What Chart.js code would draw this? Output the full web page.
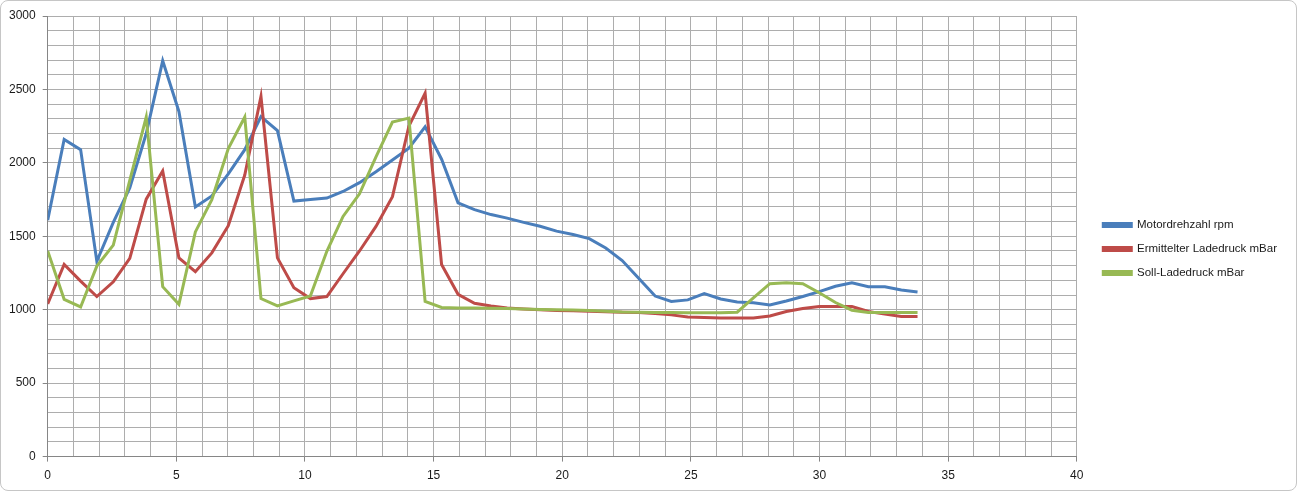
<!DOCTYPE html>
<html>
<head>
<meta charset="utf-8">
<script src="https://cdn.jsdelivr.net/npm/chart.js@4.4.1/dist/chart.umd.min.js"></script>
<style>
	html, body { margin: 0; padding: 0; background: #ffffff; }
	#frame {
		position: absolute; left: 0; top: 0;
		width: 1295px; height: 489px;
		border: 1px solid #c6c6c6; border-radius: 8px;
		overflow: hidden;
	}
	#chart { display: block; }
</style>
</head>
<body>
<div id="frame"><canvas id="chart" width="1295" height="489"></canvas></div>
<script>
'use strict';

// time axis (s)
const times = [0, 0.64, 1.28, 1.91, 2.55, 3.19, 3.83, 4.47, 5.10, 5.74,
	6.38, 7.02, 7.66, 8.29, 8.93, 9.57, 10.21, 10.85, 11.48, 12.12,
	12.76, 13.40, 14.04, 14.67, 15.31, 15.95, 16.59, 17.23, 17.86, 18.50,
	19.14, 19.78, 20.42, 21.05, 21.69, 22.33, 22.97, 23.61, 24.24, 24.88,
	25.52, 26.16, 26.80, 27.43, 28.07, 28.71, 29.35, 29.99, 30.62, 31.26,
	31.90, 32.54, 33.18, 33.81];

const rpm = [1610, 2160, 2090, 1330, 1595, 1830, 2200, 2695, 2350, 1700,
	1775, 1925, 2090, 2315, 2220, 1740, 1750, 1760, 1805, 1865,
	1940, 2020, 2100, 2245, 2025, 1728, 1682, 1648, 1624, 1595,
	1568, 1535, 1512, 1484, 1420, 1335, 1215, 1093, 1056, 1067,
	1110, 1073, 1053, 1047, 1033, 1060, 1090, 1123, 1160, 1184,
	1157, 1157, 1135, 1121];

const ladedruck = [1040, 1308, 1195, 1090, 1190, 1350, 1753, 1944, 1353, 1259,
	1387, 1572, 1917, 2452, 1353, 1150, 1076, 1090, 1245, 1400,
	1567, 1770, 2250, 2474, 1308, 1105, 1044, 1026, 1012, 1005,
	1000, 995, 993, 990, 986, 983, 981, 974, 965, 951,
	947, 943, 943, 943, 958, 988, 1008, 1022, 1022, 1022,
	988, 970, 954, 954];

const sollLadedruck = [1400, 1071, 1019, 1297, 1440, 1880, 2312, 1157, 1037, 1530,
	1750, 2098, 2312, 1076, 1026, 1060, 1094, 1398, 1635, 1789,
	2041, 2278, 2305, 1056, 1015, 1012, 1011, 1010, 1008, 1005,
	1002, 1000, 998, 995, 990, 985, 983, 982, 981, 980,
	980, 980, 983, 1080, 1177, 1184, 1177, 1116, 1049, 997,
	981, 981, 981, 981];

const seriesNames = ['Motordrehzahl rpm', 'Ermittelter Ladedruck mBar', 'Soll-Ladedruck mBar'];
const seriesColors = ['#4a7ebb', '#be4b48', '#98b954'];

// extra room between plot area and legend
const LEGEND_GAP = 14;

/**
 * Pair the time values with one series so the line can go on a linear x scale
 * @param {array} values list of y values
 */
function toPoints(values) {
	let points = [];
	for (let i = 0; i < values.length; i++) {
		points.push({ x: times[i], y: values[i] });
	}
	return points;
}

function makeDataset(index, values) {
	return {
		label: seriesNames[index],
		data: toPoints(values),
		borderColor: seriesColors[index],
		backgroundColor: seriesColors[index],
		borderWidth: 3,
		pointRadius: 0,
		tension: 0,
		// Excel puts the last series on top
		order: 3 - index
	};
}

/**
 * Grid settings: minor lines every step, tick marks only on the labelled (major) values
 * @param {number} major spacing of the labelled ticks
 */
function gridFor(major) {
	return {
		color: '#adadad',
		lineWidth: 1,
		tickLength: 5,
		tickColor: function (context) {
			return context.tick && context.tick.value % major === 0 ? '#868686' : 'rgba(0,0,0,0)';
		}
	};
}

/**
 * Widen the legend box and push its items to the right, Excel style
 */
const legendGapPlugin = {
	id: 'legendGap',
	afterInit: function (chart) {
		const legend = chart.legend;
		const fit = legend.fit;
		legend.fit = function () {
			fit.call(this);
			this.width += LEGEND_GAP;
		};
	},
	afterLayout: function (chart) {
		const legend = chart.legend;
		legend.left += LEGEND_GAP;
		legend.right += LEGEND_GAP;
		legend.top -= 4;
		legend.bottom -= 4;
	}
};

function createChart(ctx) {
	const font = { family: "'Liberation Sans', Arial, sans-serif", size: 12 };

	return new Chart(ctx, {
		type: 'line',
		data: {
			datasets: [
				makeDataset(0, rpm),
				makeDataset(1, ladedruck),
				makeDataset(2, sollLadedruck)
			]
		},
		plugins: [legendGapPlugin],
		options: {
			responsive: false,
			animation: false,
			layout: {
				padding: { left: 1, top: 15, right: 9, bottom: 0 }
			},
			plugins: {
				tooltip: { enabled: false },
				legend: {
					position: 'right',
					labels: {
						boxWidth: 28,
						boxHeight: 3,
						padding: 12.5,
						color: '#1a1a1a',
						font: { family: font.family, size: 11.5 },
						sort: function (a, b) { return a.datasetIndex - b.datasetIndex; }
					}
				}
			},
			scales: {
				x: {
					type: 'linear',
					min: 0,
					max: 40,
					grid: gridFor(5),
					border: { color: '#868686' },
					ticks: {
						stepSize: 1,
						autoSkip: false,
						maxRotation: 0,
						padding: 7,
						color: '#1a1a1a',
						font: font,
						callback: function (value) {
							return value % 5 === 0 ? String(value) : '';
						}
					}
				},
				y: {
					min: 0,
					max: 3000,
					grid: gridFor(500),
					border: { color: '#868686' },
					ticks: {
						stepSize: 100,
						autoSkip: false,
						padding: 7,
						color: '#1a1a1a',
						font: font,
						callback: function (value) {
							return value % 500 === 0 ? String(value) : '';
						}
					}
				}
			}
		}
	});
}

createChart(document.getElementById('chart'));
</script>
</body>
</html>
